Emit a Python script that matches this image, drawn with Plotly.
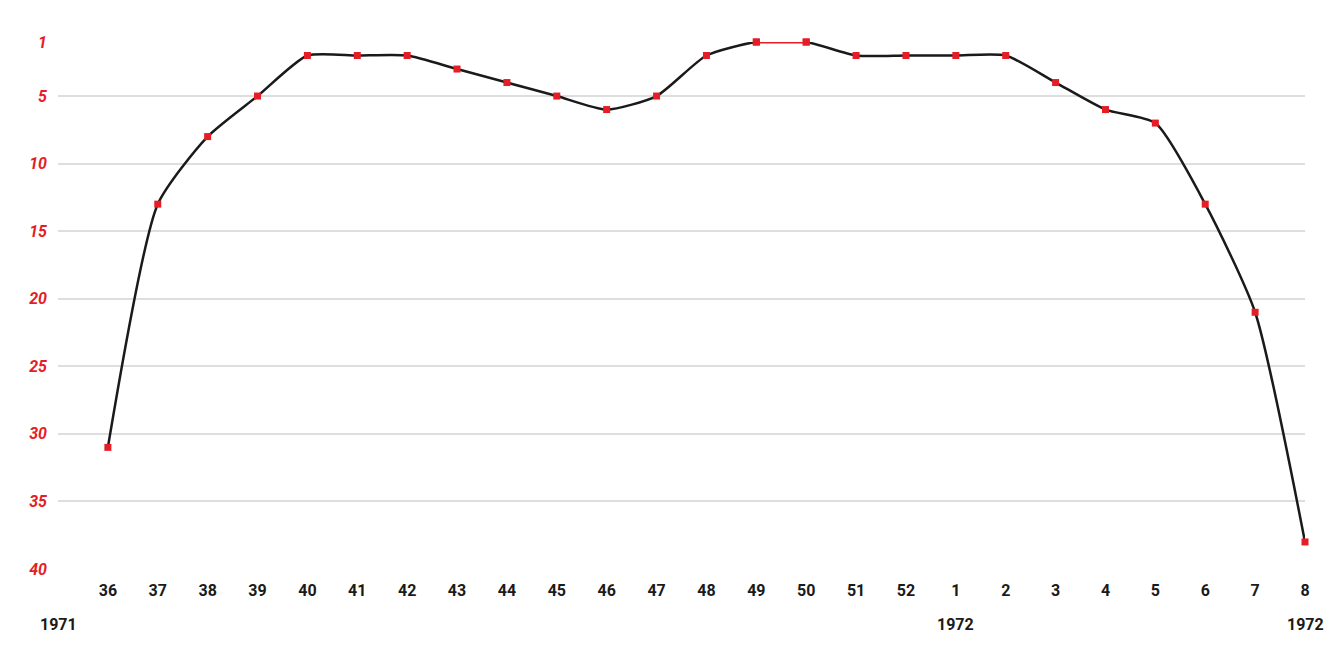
import plotly.graph_objects as go

weeks = ["36", "37", "38", "39", "40", "41", "42", "43", "44", "45", "46", "47", "48",
         "49", "50", "51", "52", "1", "2", "3", "4", "5", "6", "7", "8"]
ranks = [31, 13, 8, 5, 2, 2, 2, 3, 4, 5, 6, 5, 2, 1, 1, 2, 2, 2, 2, 4, 6, 7, 13, 21, 38]
y_ticks = [1, 5, 10, 15, 20, 25, 30, 35, 40]
year_labels = [("1971", -1), ("1972", 17), ("1972", 24)]

RED = "#e51d26"
DARK = "#1a1a1a"
FONT = "Roboto, sans-serif"

x = list(range(len(weeks)))

fig = go.Figure()
fig.add_trace(go.Scatter(
    x=x, y=ranks, mode="lines+markers",
    line=dict(color=DARK, width=2.5, shape="spline", smoothing=0.6),
    marker=dict(symbol="square", color=RED, size=7),
    cliponaxis=False, showlegend=False, hoverinfo="skip"))

# highlight segment at number 1
top_idx = [i for i, r in enumerate(ranks) if r == 1]
fig.add_trace(go.Scatter(
    x=[x[i] for i in top_idx], y=[ranks[i] for i in top_idx], mode="lines+markers",
    line=dict(color=RED, width=3),
    marker=dict(symbol="square", color=RED, size=7),
    cliponaxis=False, showlegend=False, hoverinfo="skip"))

for text, xi in year_labels:
    fig.add_annotation(x=xi, y=0, xref="x", yref="paper", yshift=-55,
                       text=f"<b>{text}</b>", showarrow=False,
                       xanchor="center", yanchor="middle",
                       font=dict(family=FONT, size=16, color=DARK))

fig.update_layout(
    width=1333, height=666,
    margin=dict(l=50, r=36, t=34, b=105),
    paper_bgcolor="white", plot_bgcolor="white",
    xaxis=dict(range=[-1, len(weeks) - 1], tickvals=x,
               ticktext=[f"<b>{w}</b>" for w in weeks],
               showgrid=False, zeroline=False, showline=False, ticks="",
               ticklabelstandoff=10,
               tickfont=dict(family=FONT, size=16, color=DARK)),
    yaxis=dict(range=[40, 1], tickvals=y_ticks,
               ticktext=[f"<b><i>{t}</i></b>" for t in y_ticks],
               showgrid=True, gridcolor="#dedede", gridwidth=1.5,
               zeroline=False, showline=False, ticks="",
               ticklabelstandoff=10,
               tickfont=dict(family=FONT, size=16, color=RED)),
)

fig.write_html("out.html")
